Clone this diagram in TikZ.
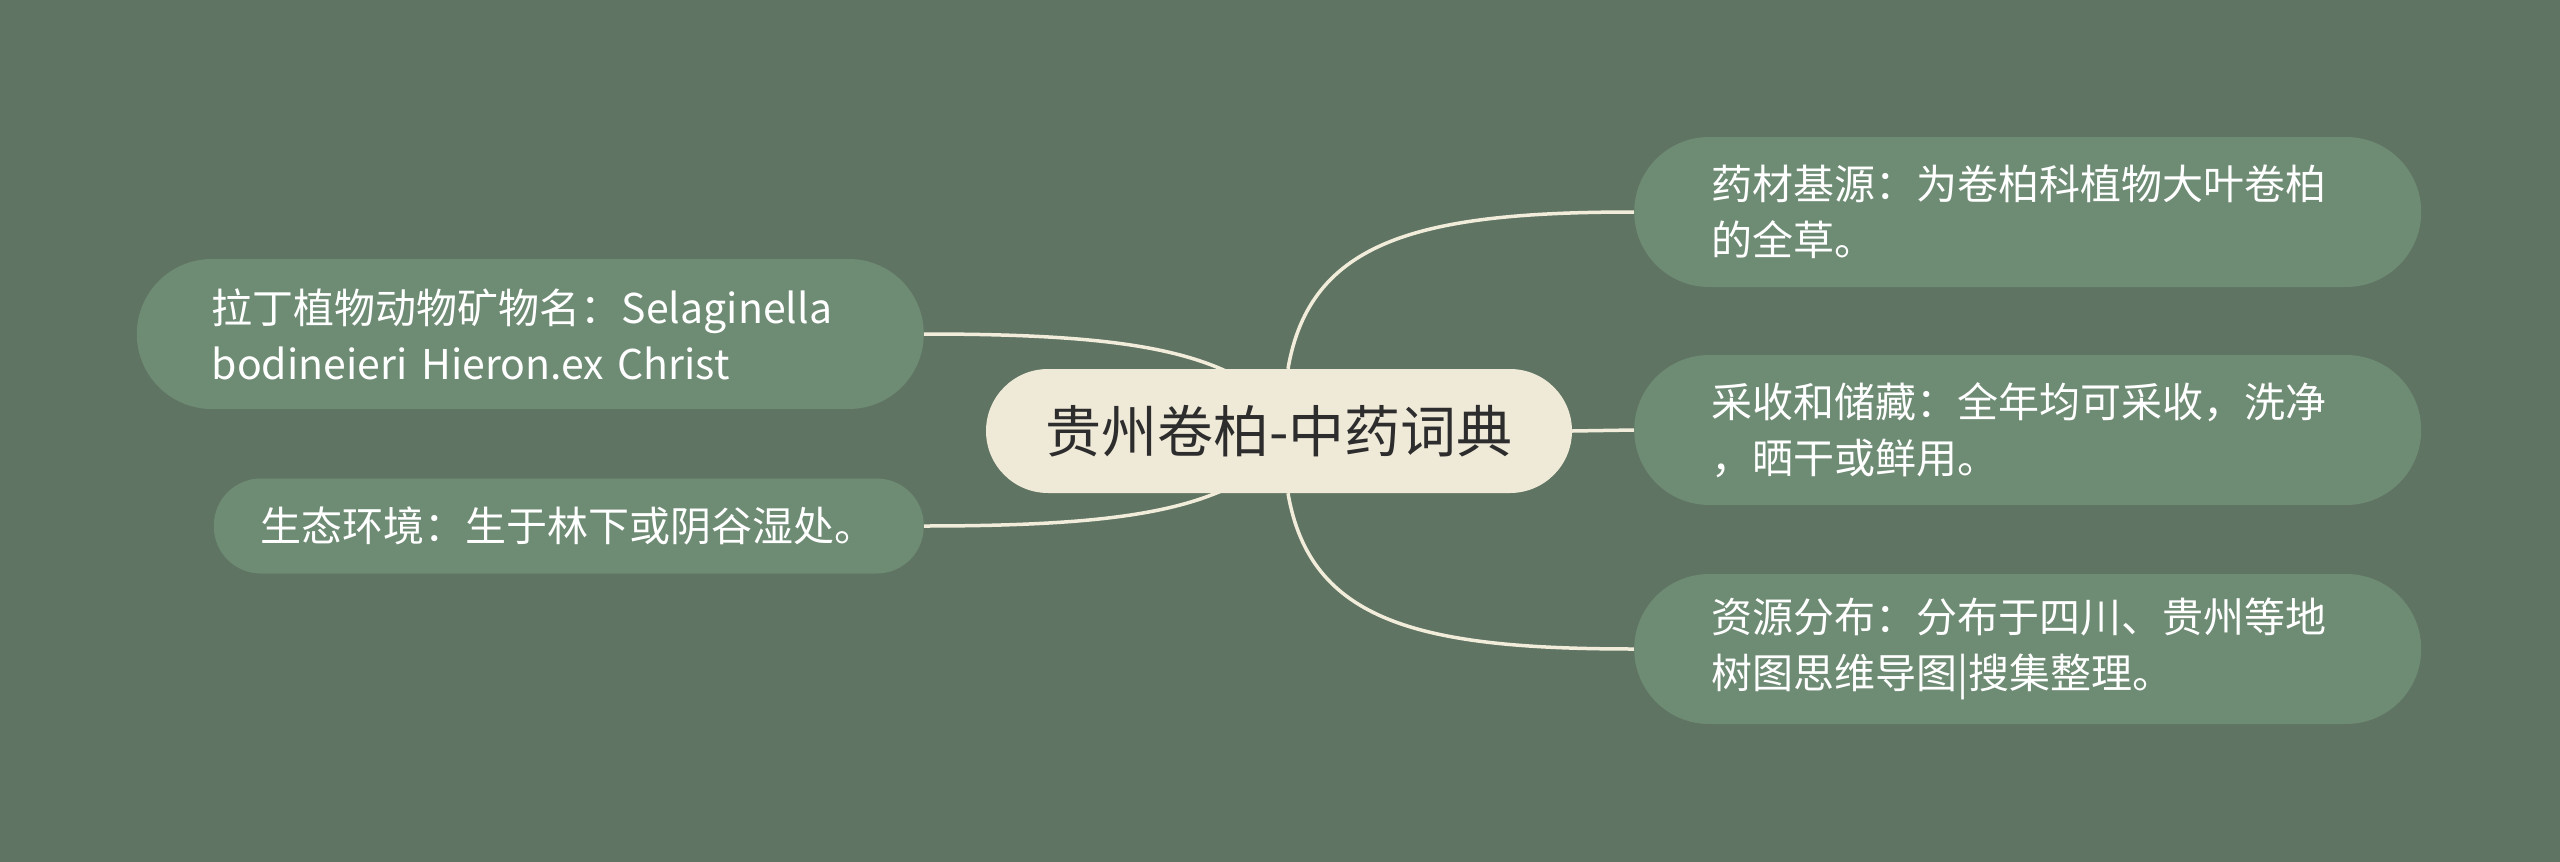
\documentclass[tikz,border=0pt]{standalone}
\usepackage{fontspec}
\newfontfamily\cjk{Noto Sans CJK SC}
\definecolor{bgc}{RGB}{95,116,99}
\definecolor{nodefill}{RGB}{110,139,116}
\definecolor{centerfill}{RGB}{239,233,216}
\definecolor{linec}{RGB}{242,236,218}
\definecolor{textdark}{RGB}{45,45,45}
\pgfdeclarelayer{bgl}
\pgfdeclarelayer{background}
\pgfsetlayers{bgl,background,main}
\begin{document}
\begin{tikzpicture}[x=1pt,y=-1pt,
  child/.style={fill=nodefill, text=white, rounded corners=75, minimum height=150,
    inner ysep=0, align=left, font=\cjk\fontsize{41}{56}\selectfont},
  rchild/.style={child, text width=633, inner xsep=77, anchor=west},
  central/.style={fill=centerfill, text=textdark, rounded corners=62, minimum width=586,
    minimum height=124, inner sep=0, font=\cjk\fontsize{56}{64}\selectfont},
  link/.style={draw=linec, line width=3.5}
]
\begin{pgfonlayer}{bgl}
\fill[bgc] (0,0) rectangle (2560,862);
\end{pgfonlayer}
\useasboundingbox (0,0) rectangle (2560,862);

\node[central] (c) at (1279,431) {贵州卷柏-中药词典};

\node[rchild] (r1) at (1634,212) {药材基源：为卷柏科植物大叶卷柏\\的全草。};
\node[rchild] (r2) at (1634,430) {采收和储藏：全年均可采收，洗净\\，晒干或鲜用。};
\node[rchild] (r3) at (1634,649) {资源分布：分布于四川、贵州等地\\树图思维导图|搜集整理。};

\node[child, text width=637, inner xsep=75, anchor=east] (l1) at (924,334)
  {拉丁植物动物矿物名：Selaginella\\bodineieri Hieron.ex Christ};
\node[child, text width=616, inner xsep=47, anchor=east, minimum height=95,
  rounded corners=47] (l2) at (924,526) {生态环境：生于林下或阴谷湿处。};

\coordinate (cl1) at (1260,390);
\coordinate (cl2) at (1260,470);

\begin{pgfonlayer}{background}
\draw[link] ([xshift=9]c.north) .. controls +(22,-129) and +(-214,0) .. (r1.west);
\draw[link] (c.east) -- (r2.west);
\draw[link] ([xshift=9]c.south) .. controls +(22,129) and +(-214,0) .. (r3.west);
\draw[link] (l1.east) .. controls +(196,0) and +(-60,-40) .. (cl1);
\draw[link] (l2.east) .. controls +(196,0) and +(-60,40) .. (cl2);
\end{pgfonlayer}
\end{tikzpicture}
\end{document}
